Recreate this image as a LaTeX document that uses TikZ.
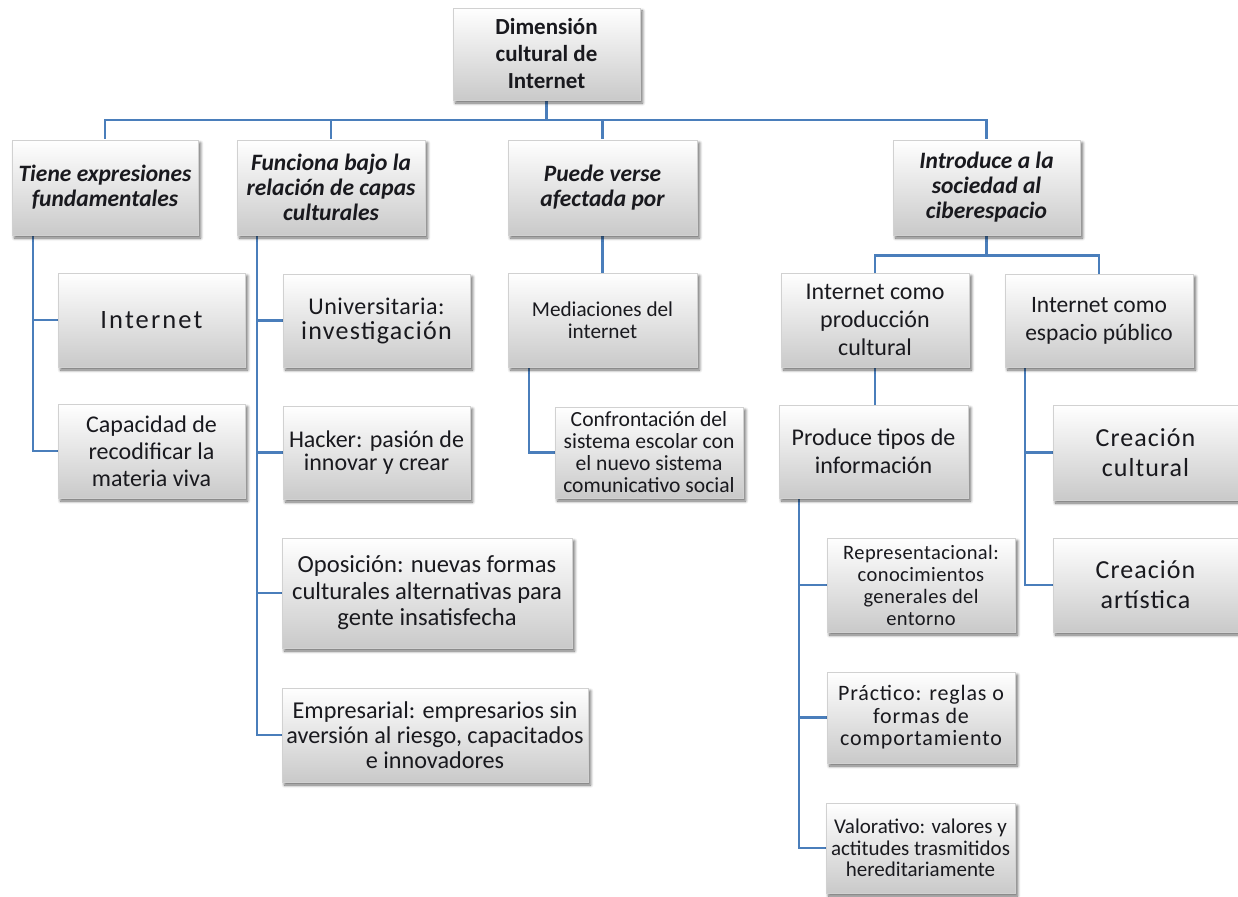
\documentclass[tikz,border=0pt]{standalone}
\usepackage{fontspec}
\setmainfont{Carlito}
\newfontfamily\lsA{Carlito}[LetterSpace=8]
\newfontfamily\lsB{Carlito}[LetterSpace=5]
\newfontfamily\lsC{Carlito}[LetterSpace=4]
\newfontfamily\lsD{Carlito}[LetterSpace=2]
\usetikzlibrary{shadows.blur,backgrounds}
\definecolor{linkblue}{RGB}{74,126,187}
\definecolor{txt}{RGB}{25,25,30}
\tikzset{
  box/.style={draw=black!18, line width=0.4pt, top color=white, bottom color=black!21,
    blur shadow={shadow xshift=2.5pt, shadow yshift=-3pt, shadow blur radius=3pt, shadow blur steps=6, shadow opacity=60},
    align=center, text=txt, inner sep=1pt},
  title/.style={font=\fontsize{23.5}{25}\selectfont\bfseries\itshape},
  conn/.style={draw=linkblue, line width=2.6pt}
}
\newcommand\bx[7]{\node[box,#6,minimum width={#4-#2},minimum height={#5-#3}] (#1) at ({(#2+#4)/2},{-(#3+#5)/2}) {#7};}
\begin{document}
\begin{tikzpicture}[x=1pt,y=1pt]
\useasboundingbox (0,0) rectangle (1238,-896);
% level 0
\bx{root}{453}{8}{640}{100}{font=\fontsize{23}{27}\selectfont\bfseries}{Dimensión\\cultural de\\Internet}
% level 1
\bx{t1}{12}{140}{198}{235}{title}{Tiene expresiones\\fundamentales}
\bx{t2}{237}{140}{425}{235}{title}{Funciona bajo la\\relación de capas\\culturales}
\bx{t3}{508}{140}{697}{235}{title}{Puede verse\\afectada por}
\bx{t4}{893}{140}{1080}{235}{title}{Introduce a la\\sociedad al\\ciberespacio}
% column 1
\bx{internet}{58}{273}{245}{367}{font=\fontsize{26.5}{28}\selectfont\lsA}{Internet}
\bx{capac}{58}{404}{245}{498}{font=\fontsize{24}{27}\selectfont}{Capacidad de\\recodificar la\\materia viva}
% column 2
\bx{univ}{283}{274}{470}{367}{font=\fontsize{24}{25}\selectfont}{{\lsD Universitaria:}\\{\fontsize{26}{25}\selectfont\lsB investigación}}
\bx{hacker}{283}{406}{470}{499}{font=\fontsize{24}{22.5}\selectfont}{Hacker: pasión de\\innovar y crear}
\bx{oposic}{282}{538}{572}{648}{font=\fontsize{24.6}{26.5}\selectfont}{Oposición: nuevas formas\\culturales alternativas para\\gente insatisfecha}
\bx{empres}{282}{688}{588}{782}{font=\fontsize{24.2}{25}\selectfont}{Empresarial: empresarios sin\\aversión al riesgo, capacitados\\e innovadores}
% column 3
\bx{mediac}{508}{273}{697}{367}{font=\fontsize{21.2}{22}\selectfont}{Mediaciones del\\internet}
\bx{confront}{555}{407}{743}{498}{font=\fontsize{21.6}{22}\selectfont}{Confrontación del\\sistema escolar con\\el nuevo sistema\\comunicativo social}
% column 4
\bx{produc}{781}{273}{969}{367}{font=\fontsize{24}{28}\selectfont}{Internet como\\producción\\cultural}
\bx{espacio}{1005}{274}{1193}{367}{font=\fontsize{23.5}{28}\selectfont}{Internet como\\espacio público}
\bx{produce}{779}{405}{968}{498}{font=\fontsize{24}{28}\selectfont}{Produce tipos de\\información}
\bx{repres}{827}{538}{1015}{632}{font=\fontsize{20.5}{22}\selectfont\lsD}{Representacional:\\conocimientos\\generales del\\entorno}
\bx{practico}{827}{672}{1015}{763}{font=\fontsize{22}{22.5}\selectfont\lsC}{Práctico: reglas o\\formas de\\comportamiento}
\bx{valor}{826}{803}{1015}{893}{font=\fontsize{21}{21.7}\selectfont}{Valorativo: valores y\\actitudes trasmitidos\\hereditariamente}
% column 5
\bx{ccult}{1053}{405}{1238}{500}{font=\fontsize{26}{30}\selectfont\lsC}{Creación\\cultural}
\bx{cart}{1053}{538}{1238}{632}{font=\fontsize{26}{30}\selectfont\lsC}{Creación\\artística}
% connectors
\begin{scope}[on background layer]
\draw[conn] (root.south) -- ++(0,-20) coordinate (bar);
\foreach \n in {t1,t2,t3,t4} \draw[conn] (bar) -| (\n.north);
\foreach \n in {internet,capac} \draw[conn] ([xshift=21]t1.south west) |- (\n.west);
\foreach \n in {univ,hacker,oposic,empres} \draw[conn] ([xshift=20]t2.south west) |- (\n.west);
\draw[conn] (t3.south) -- (mediac.north);
\draw[conn] ([xshift=21]mediac.south west) |- (confront.west);
\draw[conn] (t4.south) -- ++(0,-20) coordinate (bar4);
\foreach \n in {produc,espacio} \draw[conn] (bar4) -| (\n.north);
\draw[conn] (produc.south) -- (produc.south |- produce.north);
\foreach \n in {repres,practico,valor} \draw[conn] ([xshift=20]produce.south west) |- (\n.west);
\foreach \n in {ccult,cart} \draw[conn] ([xshift=20]espacio.south west) |- (\n.west);
\end{scope}
\end{tikzpicture}
\end{document}
